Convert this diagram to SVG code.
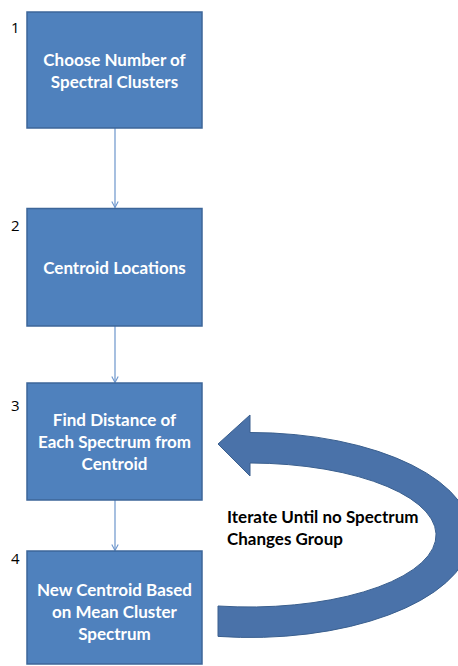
<svg xmlns="http://www.w3.org/2000/svg" width="458" height="666" viewBox="0 0 458 666">
<style>
.box{fill:#4F81BD;stroke:#3D6699;stroke-width:1.5}
.bt{font-family:Lato,"Open Sans","Liberation Sans",sans-serif;font-weight:bold;font-size:17px;fill:#FFFFFF;text-anchor:middle}
.num{font-family:"Open Sans","Liberation Sans",sans-serif;font-size:15px;fill:#000000}
.lbl{font-family:Lato,"Open Sans","Liberation Sans",sans-serif;font-weight:bold;font-size:17px;fill:#000000}
.conn{stroke:#6C95CC;stroke-width:1.2;fill:none}
.loop{fill:#4A72A9;stroke:#3A5F8E;stroke-width:1}
</style>
<defs>
<marker id="ah" viewBox="0 0 8 8" refX="7.5" refY="4" markerWidth="8" markerHeight="8" orient="auto" markerUnits="userSpaceOnUse">
<path d="M1.5,0.8 L7.5,4 L1.5,7.2" fill="none" stroke="#6C95CC" stroke-width="1.1"/>
</marker>
</defs>
<rect width="458" height="666" fill="#FFFFFF"/>
<g id="connectors">
<line class="conn" x1="115" y1="128" x2="115" y2="207.5" marker-end="url(#ah)"/>
<line class="conn" x1="115" y1="326" x2="115" y2="382.5" marker-end="url(#ah)"/>
<line class="conn" x1="115" y1="500" x2="115" y2="550.5" marker-end="url(#ah)"/>
<path id="iterate-arrow" class="loop" d="M218,606 A187,72 0 1 0 250,463 L250,476 L218,444 L250,415 L250,432.5 A221,102.5 0 1 1 218,636.4 Z"/>
</g>
<g id="node1">
<text class="num" x="11" y="33">1</text>
<rect class="box" x="27" y="12" width="175" height="116"/>
<text class="bt" x="114.5" y="66">Choose Number of</text>
<text class="bt" x="114.5" y="88">Spectral Clusters</text>
</g>
<g id="node2">
<text class="num" x="11" y="231">2</text>
<rect class="box" x="27" y="208.5" width="175" height="117.5"/>
<text class="bt" x="114.5" y="274">Centroid Locations</text>
</g>
<g id="node3">
<text class="num" x="11" y="411">3</text>
<rect class="box" x="27" y="383" width="175" height="117"/>
<text class="bt" x="114.5" y="426">Find Distance of</text>
<text class="bt" x="114.5" y="448">Each Spectrum from</text>
<text class="bt" x="114.5" y="470">Centroid</text>
</g>
<g id="node4">
<text class="num" x="11" y="564">4</text>
<rect class="box" x="27" y="551" width="175" height="113"/>
<text class="bt" x="114.5" y="596">New Centroid Based</text>
<text class="bt" x="114.5" y="618">on Mean Cluster</text>
<text class="bt" x="114.5" y="640">Spectrum</text>
</g>
<g id="iterate-label">
<text class="lbl" x="227" y="523">Iterate Until no Spectrum</text>
<text class="lbl" x="227" y="545">Changes Group</text>
</g>
</svg>
